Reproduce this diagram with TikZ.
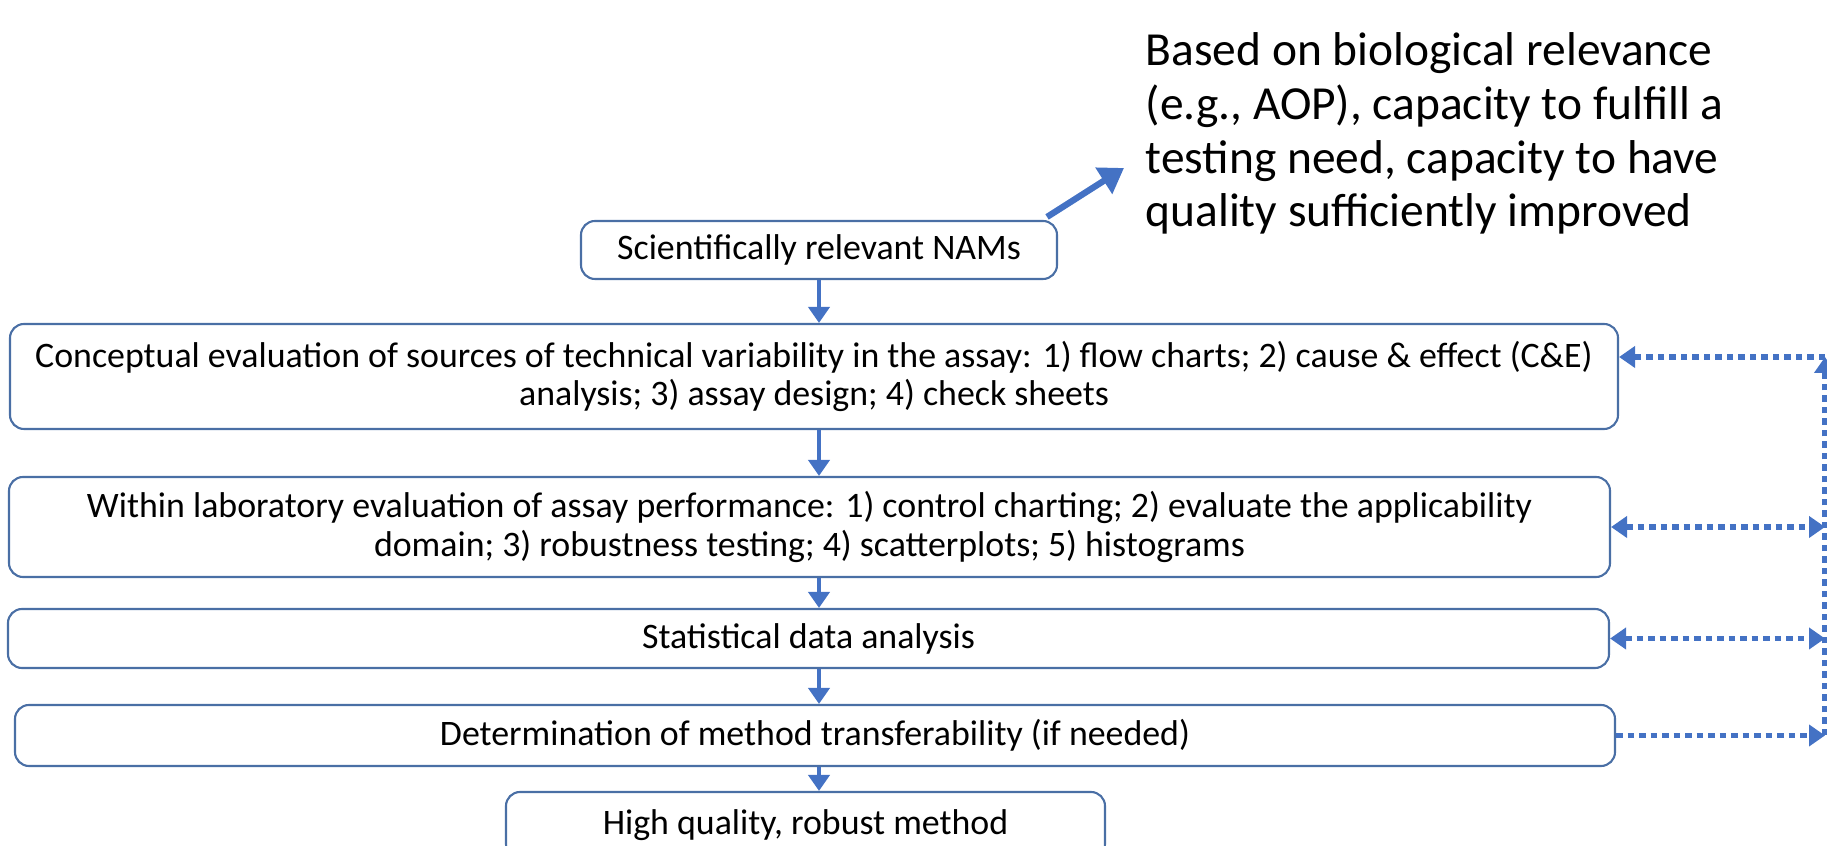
\documentclass[tikz,border=0pt]{standalone}
\usepackage{fontspec}
\setmainfont{Carlito}
\usetikzlibrary{arrows.meta}
\definecolor{arrowblue}{HTML}{4472C4}
\definecolor{boxblue}{HTML}{4A6FA5}

\begin{document}
\begin{tikzpicture}[
  box/.style={draw=boxblue, line width=0.6pt, rounded corners=0.14cm, align=center, inner sep=0pt, font=\fontsize{10.2}{10.9}\selectfont},
  flow/.style={draw=arrowblue, line width=1.2pt, -{Triangle[width=0.21cm,length=0.16cm]}},
  feedback/.style={draw=arrowblue, line width=1.5pt, dash pattern=on 0.065cm off 0.05cm},
  tri/.tip={Triangle[width=0.21cm,length=0.16cm]}
]
\useasboundingbox (0,0) rectangle (18.27,8.46);
\node[box, minimum width=4.76cm, minimum height=0.58cm] (sci) at (8.19,5.96) {Scientifically relevant NAMs};
\node[box, minimum width=16.08cm, minimum height=1.05cm] (concept) at (8.14,4.695) {Conceptual evaluation of sources of technical variability in the assay: 1) flow charts; 2) cause \& effect (C\&E)\\ analysis; 3) assay design; 4) check sheets};
\node[box, minimum width=16.01cm, minimum height=1.00cm] (within) at (8.095,3.19) {Within laboratory evaluation of assay performance: 1) control charting; 2) evaluate the applicability\\ domain; 3) robustness testing; 4) scatterplots; 5) histograms};
\node[box, minimum width=16.01cm, minimum height=0.59cm] (stat) at (8.085,2.075) {Statistical data analysis};
\node[box, minimum width=16.00cm, minimum height=0.61cm] (determ) at (8.15,1.105) {Determination of method transferability (if needed)};
\node[box, minimum width=5.99cm, minimum height=0.66cm] (high) at (8.055,0.21) {High quality, robust method};
\node[anchor=north west, align=left, inner sep=0pt, font=\fontsize{13.5}{15.3}\selectfont] (note) at (11.45,8.14) {Based on biological relevance\\ (e.g., AOP), capacity to fulfill a\\ testing need, capacity to have\\ quality sufficiently improved};
\coordinate (tip) at (11.24,6.78);
\coordinate (top) at (18.25,4.89);
% main flow
\draw[flow] (sci.south) -- (sci.south |- concept.north);
\draw[flow] (sci.south |- concept.south) -- (sci.south |- within.north);
\draw[flow] (sci.south |- within.south) -- (sci.south |- stat.north);
\draw[flow] (sci.south |- stat.south) -- (sci.south |- determ.north);
\draw[flow] (sci.south |- determ.south) -- (sci.south |- high.north);
\draw[flow, line width=1.8pt, -{Triangle[width=0.3cm,length=0.24cm]}] ([xshift=-0.11cm,yshift=0.03cm]sci.north east) -- (tip);
% feedback loop
\draw[feedback, -tri] (determ.east) -- (determ.east -| top);
\draw[feedback, -tri] (determ.east -| top) -- (top);
\draw[feedback, -tri] (top) -- (concept.east |- top);
\draw[feedback, tri-tri] (within.east) -- (within.east -| top);
\draw[feedback, tri-tri] (stat.east) -- (stat.east -| top);
\end{tikzpicture}
\end{document}
